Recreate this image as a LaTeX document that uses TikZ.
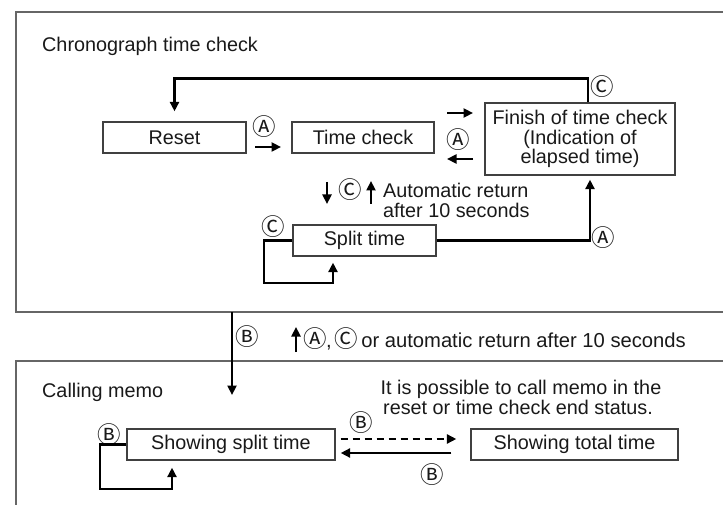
\documentclass[tikz,border=0pt]{standalone}
\usepackage{fontspec}
\setmainfont{Liberation Sans}
\newfontfamily\cjk{Noto Sans CJK JP}
\usetikzlibrary{arrows.meta}
\newcommand\cfont{\cjk\fontsize{23.5bp}{23.5bp}\selectfont}
\begin{document}
\begin{tikzpicture}[x=1bp,y=-1bp,
  txt/.style={font=\fontsize{19.8bp}{20bp}\selectfont, inner sep=0, text=black!90},
  box/.style={draw=black!75, line width=1.3bp, inner sep=0, align=center, text=black!90,
    font=\fontsize{19.8bp}{19.5bp}\selectfont},
  frame/.style={draw=black!60, line width=1.5bp},
  arr/.style={line width=2.8bp, -{Triangle[length=9.5bp,width=9bp]}},
  lab/.style={inner sep=0, font=\cfont, text=black!90}
]
\useasboundingbox (0,0) rectangle (723,505);
% frames
\draw[frame] (740,12) -- (16,12) -- (16,312) -- (740,312);
\draw[frame] (740,361) -- (16,361) -- (16,520);

% top section
\node[txt, anchor=base west] (title1) at (42,52) {Chronograph time check};
\node[box, minimum width=143bp, minimum height=31bp] (reset) at (174.5,137.5) {Reset};
\node[box, minimum width=142bp, minimum height=31bp] (tc) at (363,137.5) {Time check};
\node[box, minimum width=190bp, minimum height=72bp] (fin) at (580,139) {Finish of time check\\(Indication of\\elapsed time)};
\node[box, minimum width=143bp, minimum height=31bp] (split) at (364.5,240.5) {Split time};

\draw[arr, shorten >=10bp] ([xshift=8bp]fin.north) -- ++(0,-24) -| (reset.north);
\node[lab] (c1) at (602.5,87) {Ⓒ};

\coordinate (p1) at (255,147); \coordinate (p2) at (281,147);
\draw[arr] (p1) -- (p2);
\node[lab] (a1) at (264,127) {Ⓐ};

\coordinate (p3) at (447,113); \coordinate (p4) at (473,113);
\draw[arr] (p3) -- (p4);
\coordinate (p5) at (473,159); \coordinate (p6) at (447,159);
\draw[arr] (p5) -- (p6);
\node[lab] (a2) at (458,140) {Ⓐ};

\coordinate (p7) at (327,182); \coordinate (p8) at (327,204);
\draw[arr] (p7) -- (p8);
\node[lab] (c2) at (350,190) {Ⓒ};
\coordinate (p9) at (371,204); \coordinate (p10) at (371,181);
\draw[arr] (p9) -- (p10);
\node[txt, anchor=base west] (auto1) at (383,198) {Automatic return};
\node[txt, anchor=base west] (auto2) at (383,218) {after 10 seconds};

\coordinate (sl1) at (264,283);
\draw[arr, shorten >=6bp] (split.west) -| (sl1) -| ([xshift=-31.5bp]split.south);
\node[lab] (c3) at (273,227) {Ⓒ};
\draw[arr, shorten >=4bp] (split.east) -| ([xshift=10bp]fin.south);
\node[lab] (a3) at (603,238) {Ⓐ};

% between frames
\coordinate (b0) at (232,312); \coordinate (b1) at (232,370); \coordinate (b2) at (232,395);
\draw[line width=1.6bp] (b0) -- (b1);
\draw[arr] (b1) -- (b2);
\node[lab] (bb1) at (247,337) {Ⓑ};
\coordinate (u1) at (296,352); \coordinate (u2) at (296,327);
\draw[arr] (u1) -- (u2);
\node[txt, anchor=base west, font=\fontsize{20.2bp}{20bp}\selectfont] (ret) at (305,347) {\makebox[21bp]{\cfont Ⓐ},\kern4bp\makebox[20bp]{\cfont Ⓒ}\kern5.5bp or automatic return after 10 seconds};

% bottom section
\node[txt, anchor=base west] (title2) at (42,397) {Calling memo};
\node[box, minimum width=208bp, minimum height=31bp] (ss) at (231,444.5) {Showing split time};
\node[box, minimum width=207bp, minimum height=31bp] (st) at (574.5,444.5) {Showing total time};
\node[lab] (bb2) at (109,435) {Ⓑ};
\coordinate (sl2) at (100,489);
\draw[arr, shorten >=7bp] (ss.west) -| (sl2) -| ([xshift=-59bp]ss.south);
\draw[arr, dash pattern=on 7bp off 5bp] ([xshift=5bp,yshift=5.5bp]ss.east) -- ([xshift=-14bp,yshift=5.5bp]st.west);
\draw[arr] ([xshift=-19bp,yshift=-8.5bp]st.west) -- ([xshift=5bp,yshift=-8.5bp]ss.east);
\node[lab] (bb3) at (361,423) {Ⓑ};
\node[lab] (bb4) at (432,475) {Ⓑ};
\node[txt, anchor=base] (note1) at (521,394) {It is possible to call memo in the};
\node[txt, anchor=base] (note2) at (518,414) {reset or time check end status.};
\end{tikzpicture}
\end{document}
